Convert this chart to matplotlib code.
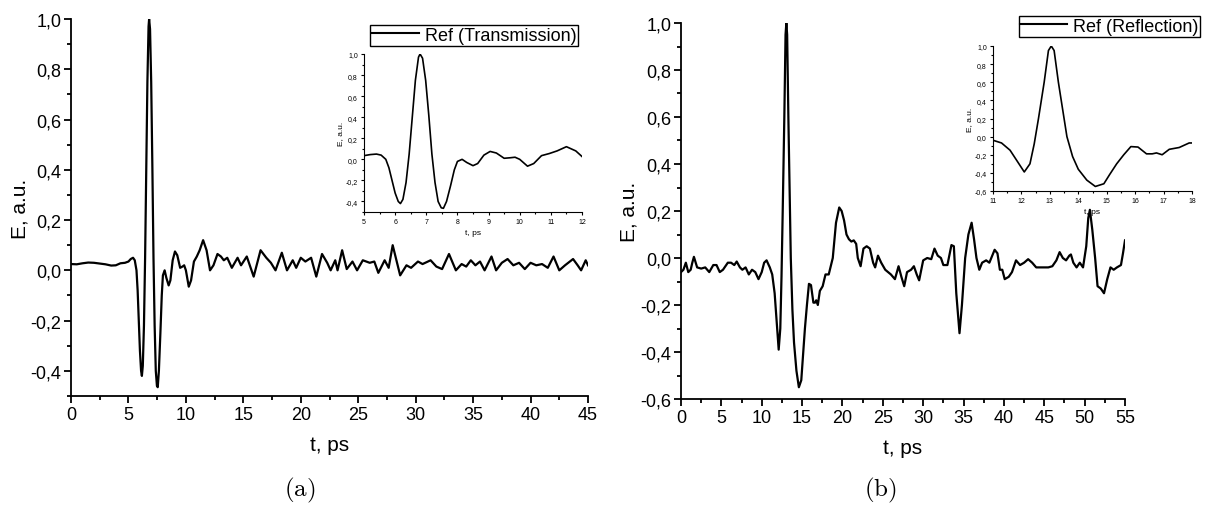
import numpy as np
import matplotlib
matplotlib.use("Agg")
import matplotlib.pyplot as plt
from matplotlib.ticker import MultipleLocator, FuncFormatter
from matplotlib.lines import Line2D

# ---------------- data ----------------
# (a) transmission reference pulse
t_trans = [0.0, 0.5, 1.0, 1.5, 2.0, 2.5, 3.0, 3.5, 3.9, 4.3, 4.7, 5.0, 5.2, 5.4, 5.55,
           5.7, 5.8, 5.9, 6.0, 6.1, 6.17, 6.25, 6.35, 6.45, 6.55, 6.65, 6.75, 6.8, 6.88,
           6.98, 7.08, 7.18, 7.28, 7.38, 7.48, 7.55, 7.65, 7.78, 7.9, 8.0, 8.15, 8.3, 8.5,
           8.65, 8.85, 9.05, 9.25, 9.5, 9.7, 9.85, 10.0, 10.25, 10.45, 10.7, 10.95, 11.2,
           11.5, 11.8, 12.1, 12.4, 12.75, 13.05, 13.3, 13.6, 14.0, 14.5, 14.8, 15.3, 15.9,
           16.5, 17.0, 17.4, 17.8, 18.35, 18.8, 19.3, 19.6, 20.0, 20.4, 20.9, 21.35, 21.85,
           22.3, 22.6, 23.0, 23.2, 23.6, 24.0, 24.5, 24.9, 25.4, 26.0, 26.4, 26.75, 27.3,
           27.65, 28.0, 28.65, 29.2, 29.6, 30.2, 30.6, 31.3, 31.8, 32.3, 32.9, 33.5, 34.0,
           34.4, 34.8, 35.2, 35.6, 36.0, 36.6, 37.0, 37.5, 38.0, 38.5, 39.0, 39.5, 40.0,
           40.5, 41.0, 41.5, 42.0, 42.5, 43.0, 43.7, 44.1, 44.4, 44.8, 45.0]
E_trans = [0.025, 0.024, 0.028, 0.031, 0.03, 0.027, 0.024, 0.019, 0.02, 0.028, 0.03, 0.035,
           0.045, 0.05, 0.04, 0.0, -0.08, -0.2, -0.32, -0.40, -0.42, -0.38, -0.22, 0.05,
           0.40, 0.75, 0.97, 1.0, 0.96, 0.75, 0.42, 0.05, -0.22, -0.40, -0.46, -0.465,
           -0.40, -0.25, -0.10, -0.02, 0.0, -0.03, -0.06, -0.04, 0.04, 0.075, 0.06, 0.01,
           0.015, 0.02, 0.0, -0.065, -0.04, 0.035, 0.055, 0.08, 0.12, 0.08, 0.0, 0.02,
           0.065, 0.055, 0.04, 0.05, 0.01, 0.05, 0.02, 0.055, -0.025, 0.08, 0.05, 0.03,
           0.0, 0.07, 0.0, 0.04, 0.01, 0.05, 0.035, 0.05, -0.025, 0.065, 0.03, 0.0, 0.04,
           0.0, 0.08, 0.005, 0.035, 0.0, 0.04, 0.03, 0.035, -0.01, 0.04, 0.01, 0.10, -0.02,
           0.02, 0.01, 0.035, 0.025, 0.04, 0.015, 0.005, 0.065, 0.0, 0.025, 0.015, 0.04,
           0.02, 0.035, 0.0, 0.055, 0.0, 0.03, 0.045, 0.02, 0.03, 0.005, 0.03, 0.02, 0.025,
           0.01, 0.055, 0.0, 0.02, 0.045, 0.02, 0.0, 0.04, 0.02]

# (b) reflection reference pulse
t_refl = [0.0, 0.3, 0.6, 0.9, 1.2, 1.4, 1.6, 2.0, 2.5, 3.0, 3.5, 4.0, 4.4, 4.8, 5.2, 5.8,
          6.2, 6.6, 6.9, 7.3, 7.6, 8.0, 8.4, 8.8, 9.2, 9.6, 10.0, 10.3, 10.6, 11.0, 11.3,
          11.6, 11.85, 12.1, 12.3, 12.45, 12.6, 12.8, 12.95, 13.05, 13.15, 13.3, 13.45,
          13.6, 13.8, 14.0, 14.3, 14.6, 14.9, 15.1, 15.35, 15.6, 15.85, 16.1, 16.4, 16.6,
          16.75, 16.95, 17.2, 17.55, 17.9, 18.3, 18.8, 19.2, 19.6, 19.9, 20.2, 20.5, 20.8,
          21.1, 21.4, 21.7, 21.9, 22.25, 22.6, 23.0, 23.4, 23.8, 24.05, 24.4, 24.8, 25.3,
          26.0, 26.5, 26.95, 27.3, 27.65, 28.0, 28.5, 28.85, 29.2, 29.5, 30.0, 30.5, 31.0,
          31.4, 31.8, 32.2, 32.5, 33.0, 33.5, 33.8, 34.1, 34.5, 34.8, 35.2, 35.6, 36.0,
          36.3, 36.6, 36.95, 37.3, 37.8, 38.2, 38.85, 39.2, 39.5, 39.8, 40.1, 40.6, 41.0,
          41.5, 42.0, 42.5, 43.0, 43.5, 44.0, 44.5, 45.0, 45.5, 46.0, 46.5, 46.9, 47.3,
          47.7, 48.1, 48.3, 48.6, 49.0, 49.4, 49.8, 50.2, 50.45, 50.65, 50.95, 51.3, 51.6,
          52.0, 52.4, 52.8, 53.2, 53.6, 54.0, 54.5, 54.75, 55.0]
E_refl = [-0.06, -0.05, -0.02, -0.06, -0.05, -0.02, 0.005, -0.04, -0.045, -0.04, -0.06,
          -0.03, -0.03, -0.06, -0.05, -0.02, -0.02, -0.03, -0.015, -0.04, -0.05, -0.04,
          -0.07, -0.05, -0.06, -0.09, -0.06, -0.02, -0.01, -0.04, -0.07, -0.15, -0.27,
          -0.39, -0.30, -0.08, 0.2, 0.6, 0.95, 1.0, 0.95, 0.6, 0.3, 0.0, -0.22, -0.36,
          -0.48, -0.55, -0.52, -0.42, -0.30, -0.20, -0.11, -0.115, -0.19, -0.19, -0.18,
          -0.20, -0.14, -0.12, -0.07, -0.07, 0.0, 0.15, 0.215, 0.2, 0.16, 0.1, 0.08, 0.07,
          0.075, 0.06, 0.0, -0.035, 0.04, 0.05, 0.04, -0.02, -0.04, 0.01, -0.02, -0.05,
          -0.07, -0.09, -0.035, -0.08, -0.12, -0.06, -0.05, -0.035, -0.07, -0.095, -0.01,
          0.0, -0.005, 0.04, 0.01, 0.0, -0.03, -0.03, 0.055, 0.05, -0.15, -0.32, -0.2,
          0.0, 0.1, 0.15, 0.08, 0.0, -0.05, -0.02, -0.01, -0.02, 0.035, 0.02, -0.05,
          -0.05, -0.09, -0.08, -0.06, -0.01, -0.03, -0.02, -0.005, -0.02, -0.04, -0.04,
          -0.04, -0.04, -0.035, -0.01, 0.025, 0.0, -0.01, 0.01, 0.015, -0.02, -0.04, -0.02,
          -0.04, 0.05, 0.17, 0.205, 0.12, 0.0, -0.12, -0.13, -0.15, -0.09, -0.04, -0.05,
          -0.04, -0.03, 0.02, 0.075]

labels = ["Ref (Transmission)", "Ref (Reflection)"]
captions = ["(a)", "(b)"]

# ---------------- style ----------------
plt.rcParams['font.family'] = ['Liberation Sans', 'DejaVu Sans']
plt.rcParams['mathtext.fontset'] = 'cm'


def comma_fmt(v, pos):
    v = round(v, 1) + 0.0
    return ('%.1f' % v).replace('.', ',')


def int_fmt(v, pos):
    return '%d' % round(v)


def origin_axes(ax, xmaj, xmin, ymaj, ymin, fs, lw, tl):
    # Origin-like look: only left/bottom axes, outward ticks
    ax.spines['top'].set_visible(False)
    ax.spines['right'].set_visible(False)
    ax.spines['left'].set_linewidth(lw)
    ax.spines['bottom'].set_linewidth(lw)
    ax.xaxis.set_major_locator(MultipleLocator(xmaj))
    ax.xaxis.set_minor_locator(MultipleLocator(xmin))
    ax.yaxis.set_major_locator(MultipleLocator(ymaj))
    ax.yaxis.set_minor_locator(MultipleLocator(ymin))
    ax.yaxis.set_major_formatter(FuncFormatter(comma_fmt))
    ax.xaxis.set_major_formatter(FuncFormatter(int_fmt))
    ax.tick_params(which='major', direction='out', length=tl, width=lw, labelsize=fs, pad=2)
    ax.tick_params(which='minor', direction='out', length=tl * 0.6, width=lw)
    ax.patch.set_alpha(0)


fig = plt.figure(figsize=(12.05, 5.06), dpi=100)
W, H = 1205.0, 506.0

def px_axes(x0, y0, x1, y1):
    return fig.add_axes([x0 / W, 1 - y1 / H, (x1 - x0) / W, (y1 - y0) / H])

# main panels
axA = px_axes(71, 20, 588, 397)
axB = px_axes(681, 24, 1125, 400)
# insets
inA = px_axes(364, 55, 582, 213)
inB = px_axes(993, 47, 1192, 192)

for ax, t, E, xl, yl in [(axA, t_trans, E_trans, (0, 45), (-0.5, 1.0)),
                         (axB, t_refl, E_refl, (0, 55), (-0.6, 1.0))]:
    ax.plot(t, E, color='black', lw=1.6)
    ax.set_xlim(*xl)
    ax.set_ylim(*yl)
    origin_axes(ax, 5, 2.5, 0.2, 0.1, 13, 1.3, 5)
    ax.set_xlabel('t, ps', fontsize=15, labelpad=9)
    ax.set_ylabel('E, a.u.', fontsize=15, labelpad=1)

for ax, t, E, xl, yl in [(inA, t_trans, E_trans, (5, 12), (-0.5, 1.0)),
                         (inB, t_refl, E_refl, (11, 18), (-0.6, 1.0))]:
    ax.plot(t, E, color='black', lw=1.2)
    ax.set_xlim(*xl)
    ax.set_ylim(*yl)
    origin_axes(ax, 1, 0.5, 0.2, 0.1, 5, 0.8, 2.5)
    ax.set_xlabel('t, ps', fontsize=6, labelpad=3)
    ax.set_ylabel('E, a.u.', fontsize=6, labelpad=1)

# legends placed above the insets
for lab, anchor in [(labels[0], (578 / W, 1 - 26 / H)), (labels[1], (1200 / W, 1 - 17 / H))]:
    h = [Line2D([], [], color='black', lw=1.5)]
    leg = fig.legend(h, [lab], loc='upper right', bbox_to_anchor=anchor, fontsize=13,
                     frameon=True, fancybox=False, edgecolor='black', framealpha=1,
                     handlelength=2.6, handletextpad=0.3, borderpad=0.1,
                     borderaxespad=0)
    leg.get_frame().set_linewidth(1.0)

# sub-figure captions
fig.text(300 / W, 1 - 490 / H, r'$\mathrm{' + captions[0] + '}$', fontsize=18,
         ha='center', va='center')
fig.text(880 / W, 1 - 490 / H, r'$\mathrm{' + captions[1] + '}$', fontsize=18,
         ha='center', va='center')

fig.savefig('out.png', dpi=100)
